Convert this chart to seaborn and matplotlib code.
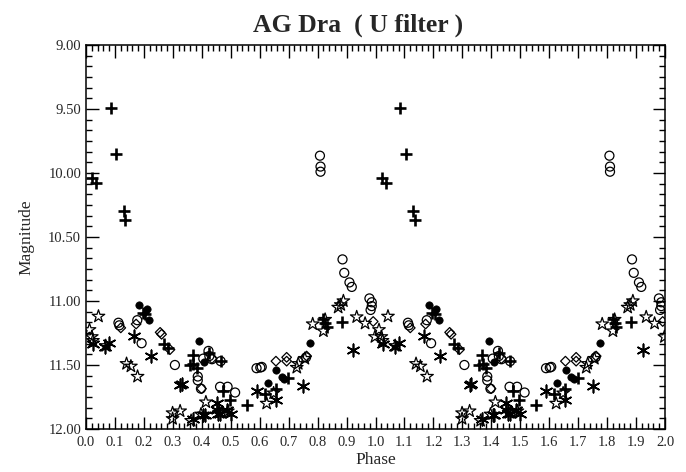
import numpy as np
import pandas as pd
import seaborn as sns
import matplotlib.pyplot as plt
from matplotlib.ticker import MultipleLocator, FormatStrFormatter

# data for one cycle (phase 0-1), plotted twice
plus_phase = [0.021, 0.035, 0.085, 0.104, 0.131, 0.135, 0.196, 0.204, 0.270, 0.284,
              0.359, 0.368, 0.370, 0.382, 0.425, 0.465, 0.474, 0.497, 0.555, 0.618,
              0.655, 0.699, 0.820, 0.826, 0.831, 0.883]
plus_mag = [10.04, 10.075, 9.495, 9.855, 10.30, 10.37, 11.09, 11.105, 11.335, 11.365,
            11.50, 11.42, 11.49, 11.52, 11.41, 11.47, 11.70, 11.77, 11.815, 11.73,
            11.69, 11.60, 11.14, 11.17, 11.20, 11.165]

dot_phase = [0.184, 0.210, 0.218, 0.391, 0.409, 0.628, 0.657, 0.676, 0.684, 0.775]
dot_mag = [11.035, 11.06, 11.145, 11.31, 11.48, 11.64, 11.54, 11.59, 11.61, 11.33]

circ_phase = [0.112, 0.115, 0.177, 0.192, 0.307, 0.386, 0.386, 0.397, 0.405, 0.423,
              0.426, 0.435, 0.465, 0.463, 0.489, 0.515, 0.589, 0.602, 0.607, 0.760,
              0.808, 0.810, 0.810, 0.886, 0.892, 0.910, 0.918, 0.979, 0.987, 0.987, 0.983]
circ_mag = [11.17, 11.19, 11.15, 11.33, 11.50, 11.59, 11.62, 11.685, 11.45, 11.39,
            11.43, 11.455, 11.47, 11.67, 11.67, 11.715, 11.525, 11.52, 11.515, 11.44,
            9.865, 9.95, 9.99, 10.675, 10.78, 10.855, 10.89, 10.98, 11.01, 11.04, 11.07]

diam_phase = [0.120, 0.173, 0.256, 0.261, 0.290, 0.399, 0.435, 0.656, 0.693, 0.693,
              0.762, 0.992]
diam_mag = [11.21, 11.18, 11.245, 11.26, 11.38, 11.685, 11.45, 11.47, 11.44, 11.47,
            11.43, 11.16]

star_phase = [0.012, 0.020, 0.024, 0.043, 0.068, 0.140, 0.155, 0.178, 0.299, 0.299,
              0.325, 0.363, 0.397, 0.414, 0.460, 0.490, 0.624, 0.648, 0.728, 0.733,
              0.756, 0.783, 0.820, 0.826, 0.871, 0.880, 0.889, 0.935, 0.964, 0.998]
star_mag = [11.225, 11.28, 11.31, 11.12, 11.35, 11.49, 11.51, 11.59, 11.875, 11.92,
            11.86, 11.935, 11.885, 11.79, 11.87, 11.86, 11.80, 11.72, 11.52, 11.49,
            11.45, 11.18, 11.235, 11.145, 11.05, 11.03, 11.00, 11.125, 11.175, 11.28]

ast_phase = [0.025, 0.066, 0.080, 0.167, 0.223, 0.325, 0.330, 0.368, 0.405, 0.411,
             0.451, 0.451, 0.457, 0.463, 0.486, 0.500, 0.589, 0.656, 0.751, 0.923]
ast_mag = [11.335, 11.36, 11.33, 11.275, 11.43, 11.66, 11.645, 11.92, 11.89, 11.89,
           11.80, 11.85, 11.88, 11.885, 11.85, 11.885, 11.705, 11.775, 11.665, 11.38]

groups = {
    'plus': (plus_phase, plus_mag),
    'dot': (dot_phase, dot_mag),
    'circle': (circ_phase, circ_mag),
    'diamond': (diam_phase, diam_mag),
    'star': (star_phase, star_mag),
    'asterisk': (ast_phase, ast_mag),
}
rows = []
for kind, (ph, mg) in groups.items():
    for p, m in zip(ph, mg):
        rows.append((p, m, kind))
        rows.append((p + 1, m, kind))
df = pd.DataFrame(rows, columns=['Phase', 'Magnitude', 'kind'])

sns.set_style('ticks')
plt.rcParams['font.family'] = ['Liberation Serif', 'DejaVu Serif']

styles = {
    'plus': dict(marker='+', s=65, color='black', linewidth=1.9),
    'dot': dict(marker='o', s=28, color='black', edgecolor='black', linewidth=0.5),
    'circle': dict(marker='o', s=42, facecolor='none', edgecolor='black', linewidth=0.9),
    'diamond': dict(marker='D', s=24, facecolor='none', edgecolor='black', linewidth=0.9),
    'star': dict(marker='*', s=90, facecolor='none', edgecolor='black', linewidth=0.9),
    'asterisk': dict(marker=(6, 2, 0), s=80, color='black', linewidth=1.2),
}

fig = plt.figure(figsize=(6.86, 4.72), dpi=100)
ax = fig.add_axes([0.1254, 0.0911, 0.844, 0.8136])
for kind, st in styles.items():
    sub = df[df['kind'] == kind]
    sns.scatterplot(data=sub, x='Phase', y='Magnitude', ax=ax, legend=False, **st)

ax.set_xlim(0, 2.0)
ax.set_ylim(12.0, 9.0)
ax.xaxis.set_major_locator(MultipleLocator(0.1))
ax.xaxis.set_minor_locator(MultipleLocator(0.02))
ax.yaxis.set_major_locator(MultipleLocator(0.5))
ax.yaxis.set_minor_locator(MultipleLocator(0.5 / 6))
ax.xaxis.set_major_formatter(FormatStrFormatter('%.1f'))
ax.yaxis.set_major_formatter(FormatStrFormatter('%.2f'))
ax.tick_params(which='both', direction='in', top=True, right=True, color='black',
               labelsize=10.5)
ax.tick_params(which='major', length=9, width=1)
ax.tick_params(which='minor', length=4.5, width=1)
ax.tick_params(axis='x', pad=5)
for sp in ax.spines.values():
    sp.set_linewidth(1.1)
    sp.set_color('black')

ax.set_xlabel('Phase', fontsize=12.5, labelpad=2)
ax.set_ylabel('Magnitude', fontsize=12.5, labelpad=10)
ax.set_title('AG Dra  ( U filter )', fontsize=18.5, fontweight='bold', pad=10, x=0.47)

plt.savefig('out.png', dpi=100)
